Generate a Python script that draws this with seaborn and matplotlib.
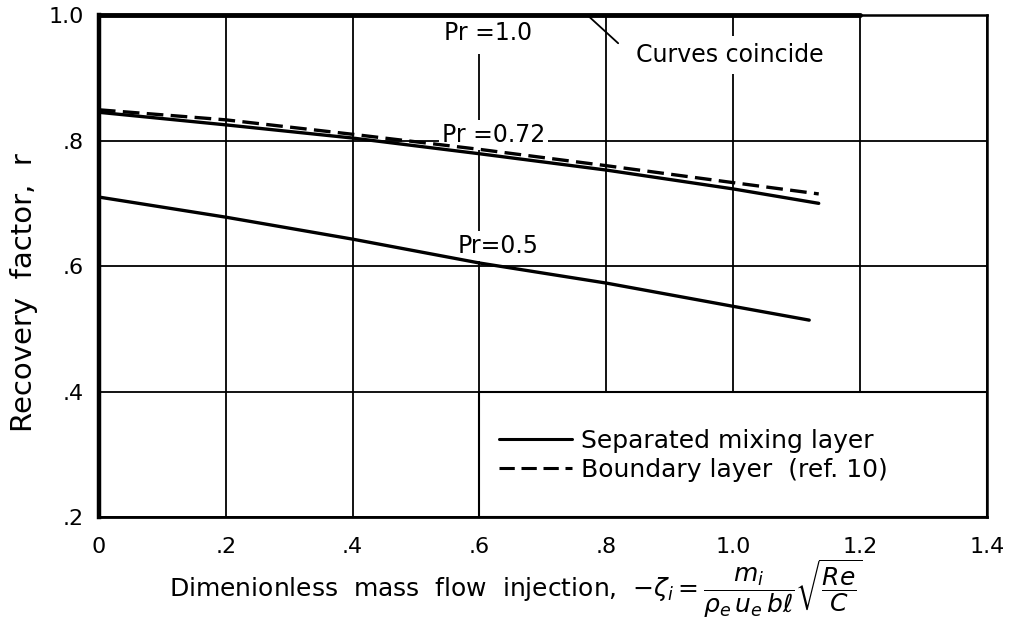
import numpy as np
import pandas as pd
import matplotlib
matplotlib.use("Agg")
import matplotlib.pyplot as plt
import seaborn as sns
from matplotlib.lines import Line2D
from matplotlib.patches import Rectangle

# ---- data ----
x_072 = [0.0, 0.2, 0.4, 0.6, 0.8, 1.0, 1.135]
r_sep_072 = [0.845, 0.825, 0.804, 0.779, 0.753, 0.723, 0.700]
r_bl_072 = [0.849, 0.833, 0.810, 0.786, 0.760, 0.733, 0.715]
x_05 = [0.0, 0.2, 0.4, 0.6, 0.8, 1.0, 1.12]
r_sep_05 = [0.710, 0.678, 0.643, 0.605, 0.573, 0.536, 0.514]
x_10 = [0.0, 1.2]
r_sep_10 = [1.0, 1.0]

x_ticks = [0, 0.2, 0.4, 0.6, 0.8, 1.0, 1.2, 1.4]
x_ticklabels = ["0", ".2", ".4", ".6", ".8", "1.0", "1.2", "1.4"]
y_ticks = [0.2, 0.4, 0.6, 0.8, 1.0]
y_ticklabels = [".2", ".4", ".6", ".8", "1.0"]

legend_labels = ["Separated mixing layer", "Boundary layer  (ref. 10)"]

df = pd.concat([
    pd.DataFrame({"x": x_072, "r": r_sep_072, "curve": "Pr=0.72 sep", "source": "sep"}),
    pd.DataFrame({"x": x_072, "r": r_bl_072, "curve": "Pr=0.72 bl", "source": "bl"}),
    pd.DataFrame({"x": x_05, "r": r_sep_05, "curve": "Pr=0.5 sep", "source": "sep"}),
], ignore_index=True)

sns.set_theme(style="white")
plt.rcParams["font.family"] = ["DejaVu Sans"]
plt.rcParams["text.color"] = "black"
plt.rcParams["axes.labelcolor"] = "black"
plt.rcParams["xtick.color"] = "black"
plt.rcParams["ytick.color"] = "black"

fig = plt.figure(figsize=(10.09, 6.24), dpi=100)
ax = fig.add_axes([0.098, 0.171, 0.880, 0.805])

sns.lineplot(data=df, x="x", y="r", units="curve", estimator=None,
             style="source", style_order=["sep", "bl"],
             dashes={"sep": "", "bl": (5, 2.2)},
             color="black", linewidth=2.4, legend=False, ax=ax, zorder=2, sort=False)

# Pr = 1.0 (curves coincide) along the top border
sns.lineplot(x=x_10, y=r_sep_10, color="black", linewidth=3.5, ax=ax,
             legend=False, zorder=5, clip_on=False)

ax.set_xlim(0, 1.4)
ax.set_ylim(0.2, 1.0)
ax.set_xticks(x_ticks)
ax.set_xticklabels(x_ticklabels)
ax.set_yticks(y_ticks)
ax.set_yticklabels(y_ticklabels)
ax.tick_params(axis="both", length=0, labelsize=16, colors="black")
ax.tick_params(axis="x", pad=14)
ax.tick_params(axis="y", pad=11)

ax.grid(True, color="black", linewidth=1.3)
ax.set_axisbelow(True)
for side, lw in [("left", 3.2), ("bottom", 2.0), ("right", 1.8), ("top", 1.8)]:
    ax.spines[side].set_visible(True)
    ax.spines[side].set_color("black")
    ax.spines[side].set_linewidth(lw)

ax.set_ylabel("Recovery  factor,  r", fontsize=21, color="black", va="center")
ax.yaxis.set_label_coords(-0.0845, 0.448)
ax.set_xlabel(r"Dimenionless  mass  flow  injection,  $-\zeta_i=\dfrac{m_i}{\rho_e\,u_e\,b\ell}\sqrt{\dfrac{Re}{C}}$",
              fontsize=18, color="black", va="baseline")
ax.xaxis.set_label_coords(0.47, -0.158)

# legend box covering the lower-right grid cells
ax.add_patch(Rectangle((0.6, 0.2), 0.8, 0.2, facecolor="white", edgecolor="black",
                       linewidth=1.5, zorder=1))
handles = [Line2D([], [], color="black", lw=2.2),
           Line2D([], [], color="black", lw=2.2, dashes=(5, 2.2))]
leg = ax.legend(handles, legend_labels, loc="upper left", bbox_to_anchor=(0.596, 0.377),
                bbox_transform=ax.transData, frameon=False, fontsize=18,
                handlelength=2.9, handletextpad=0.35, labelspacing=0.2)
for t in leg.get_texts():
    t.set_color("black")

# curve labels
ax.text(0.614, 0.972, "Pr =1.0", fontsize=17, ha="center", va="center",
        bbox=dict(facecolor="white", edgecolor="none", pad=7), zorder=1.5)
ax.text(0.622, 0.809, "Pr =0.72", fontsize=17, ha="center", va="center",
        bbox=dict(facecolor="white", edgecolor="none", pad=2), zorder=1.5)
ax.text(0.63, 0.632, "Pr=0.5", fontsize=17, ha="center", va="center",
        bbox=dict(facecolor="white", edgecolor="none", pad=2), zorder=1.5)
ax.text(0.995, 0.936, "Curves coincide", fontsize=17, ha="center", va="center",
        bbox=dict(facecolor="white", edgecolor="none", pad=5), zorder=1.5)
ax.annotate("", xy=(0.770, 1.0), xytext=(0.822, 0.952),
            arrowprops=dict(arrowstyle="-", color="black", lw=1.3), zorder=3)

fig.savefig("out.png", dpi=100, facecolor="white")
